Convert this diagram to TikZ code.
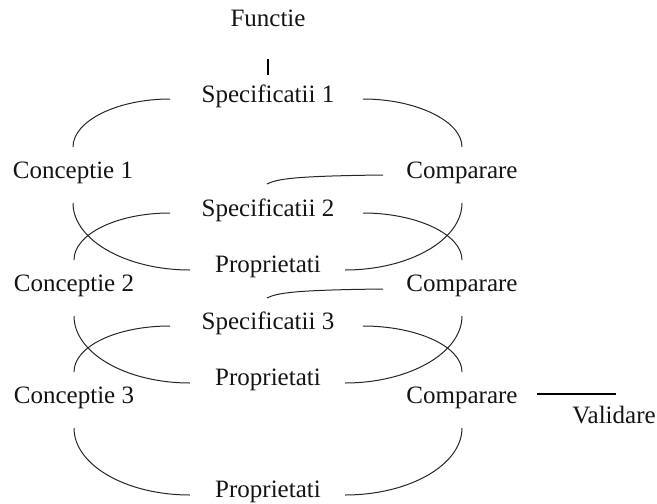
\documentclass[tikz,border=0pt]{standalone}
\usepackage{fontspec}
\setmainfont{Liberation Serif}
\begin{document}
\begin{tikzpicture}[x=1pt,y=1pt,
  lbl/.style={inner sep=0pt,anchor=base,font=\fontsize{25}{29}\selectfont,text=black!92},
  arc/.style={line width=1pt,draw=black!85},
  bar/.style={line width=1.6pt,draw=black}]
\useasboundingbox (0,0) rectangle (657,-504);

% labels
\node[lbl] (f)  at (268,-26)  {Functie};
\node[lbl] (s1) at (268,-102) {Specificatii 1};
\node[lbl] (c1) at (73,-178)  {Conceptie 1};
\node[lbl] (m1) at (462,-178) {Comparare};
\node[lbl] (s2) at (268,-216) {Specificatii 2};
\node[lbl] (p1) at (268,-272) {Proprietati};
\node[lbl] (c2) at (74,-291)  {Conceptie 2};
\node[lbl] (m2) at (462,-291) {Comparare};
\node[lbl] (s3) at (268,-329) {Specificatii 3};
\node[lbl] (p2) at (268,-385) {Proprietati};
\node[lbl] (c3) at (74,-403)  {Conceptie 3};
\node[lbl] (m3) at (462,-403) {Comparare};
\node[lbl] (v)  at (614,-423) {Validare};
\node[lbl] (p3) at (268,-497) {Proprietati};

% function to first specification
\draw[bar] ([yshift=-33pt]f.base) -- ([yshift=27pt]s1.base);

% specification arcs down to conception / comparison
\foreach \s/\c/\m in {s1/c1/m1, s2/c2/m2, s3/c3/m3}{
  \draw[arc] ([xshift=-98pt,yshift=3pt]\s.base) .. controls +(-53,0) and +(0,26) .. ([yshift=31pt]\c.base);
  \draw[arc] ([xshift=95pt,yshift=3pt]\s.base) .. controls +(53,0) and +(0,26) .. ([yshift=31pt]\m.base);
}

% conception / comparison down to properties
\foreach \c/\m/\p in {c1/m1/p1, c2/m2/p2, c3/m3/p3}{
  \draw[arc] ([yshift=-25pt]\c.base) .. controls +(0,-37) and +(-64,0) .. ([xshift=-78pt,yshift=2pt]\p.base);
  \draw[arc] ([yshift=-25pt]\m.base) .. controls +(0,-37) and +(64,0) .. ([xshift=77pt,yshift=2pt]\p.base);
}

% comparison feeding the next specification
\draw[arc] ([xshift=-79pt,yshift=3pt]m1.base) .. controls +(-90,-1) and +(10,5) .. ([xshift=-1pt,yshift=32pt]s2.base);
\draw[arc] ([xshift=-79pt,yshift=2pt]m2.base) .. controls +(-90,-1) and +(10,5) .. ([xshift=-1pt,yshift=31pt]s3.base);

% validation
\draw[bar] ([xshift=75pt,yshift=9pt]m3.base) -- ([xshift=2pt,yshift=29pt]v.base);
\end{tikzpicture}
\end{document}
